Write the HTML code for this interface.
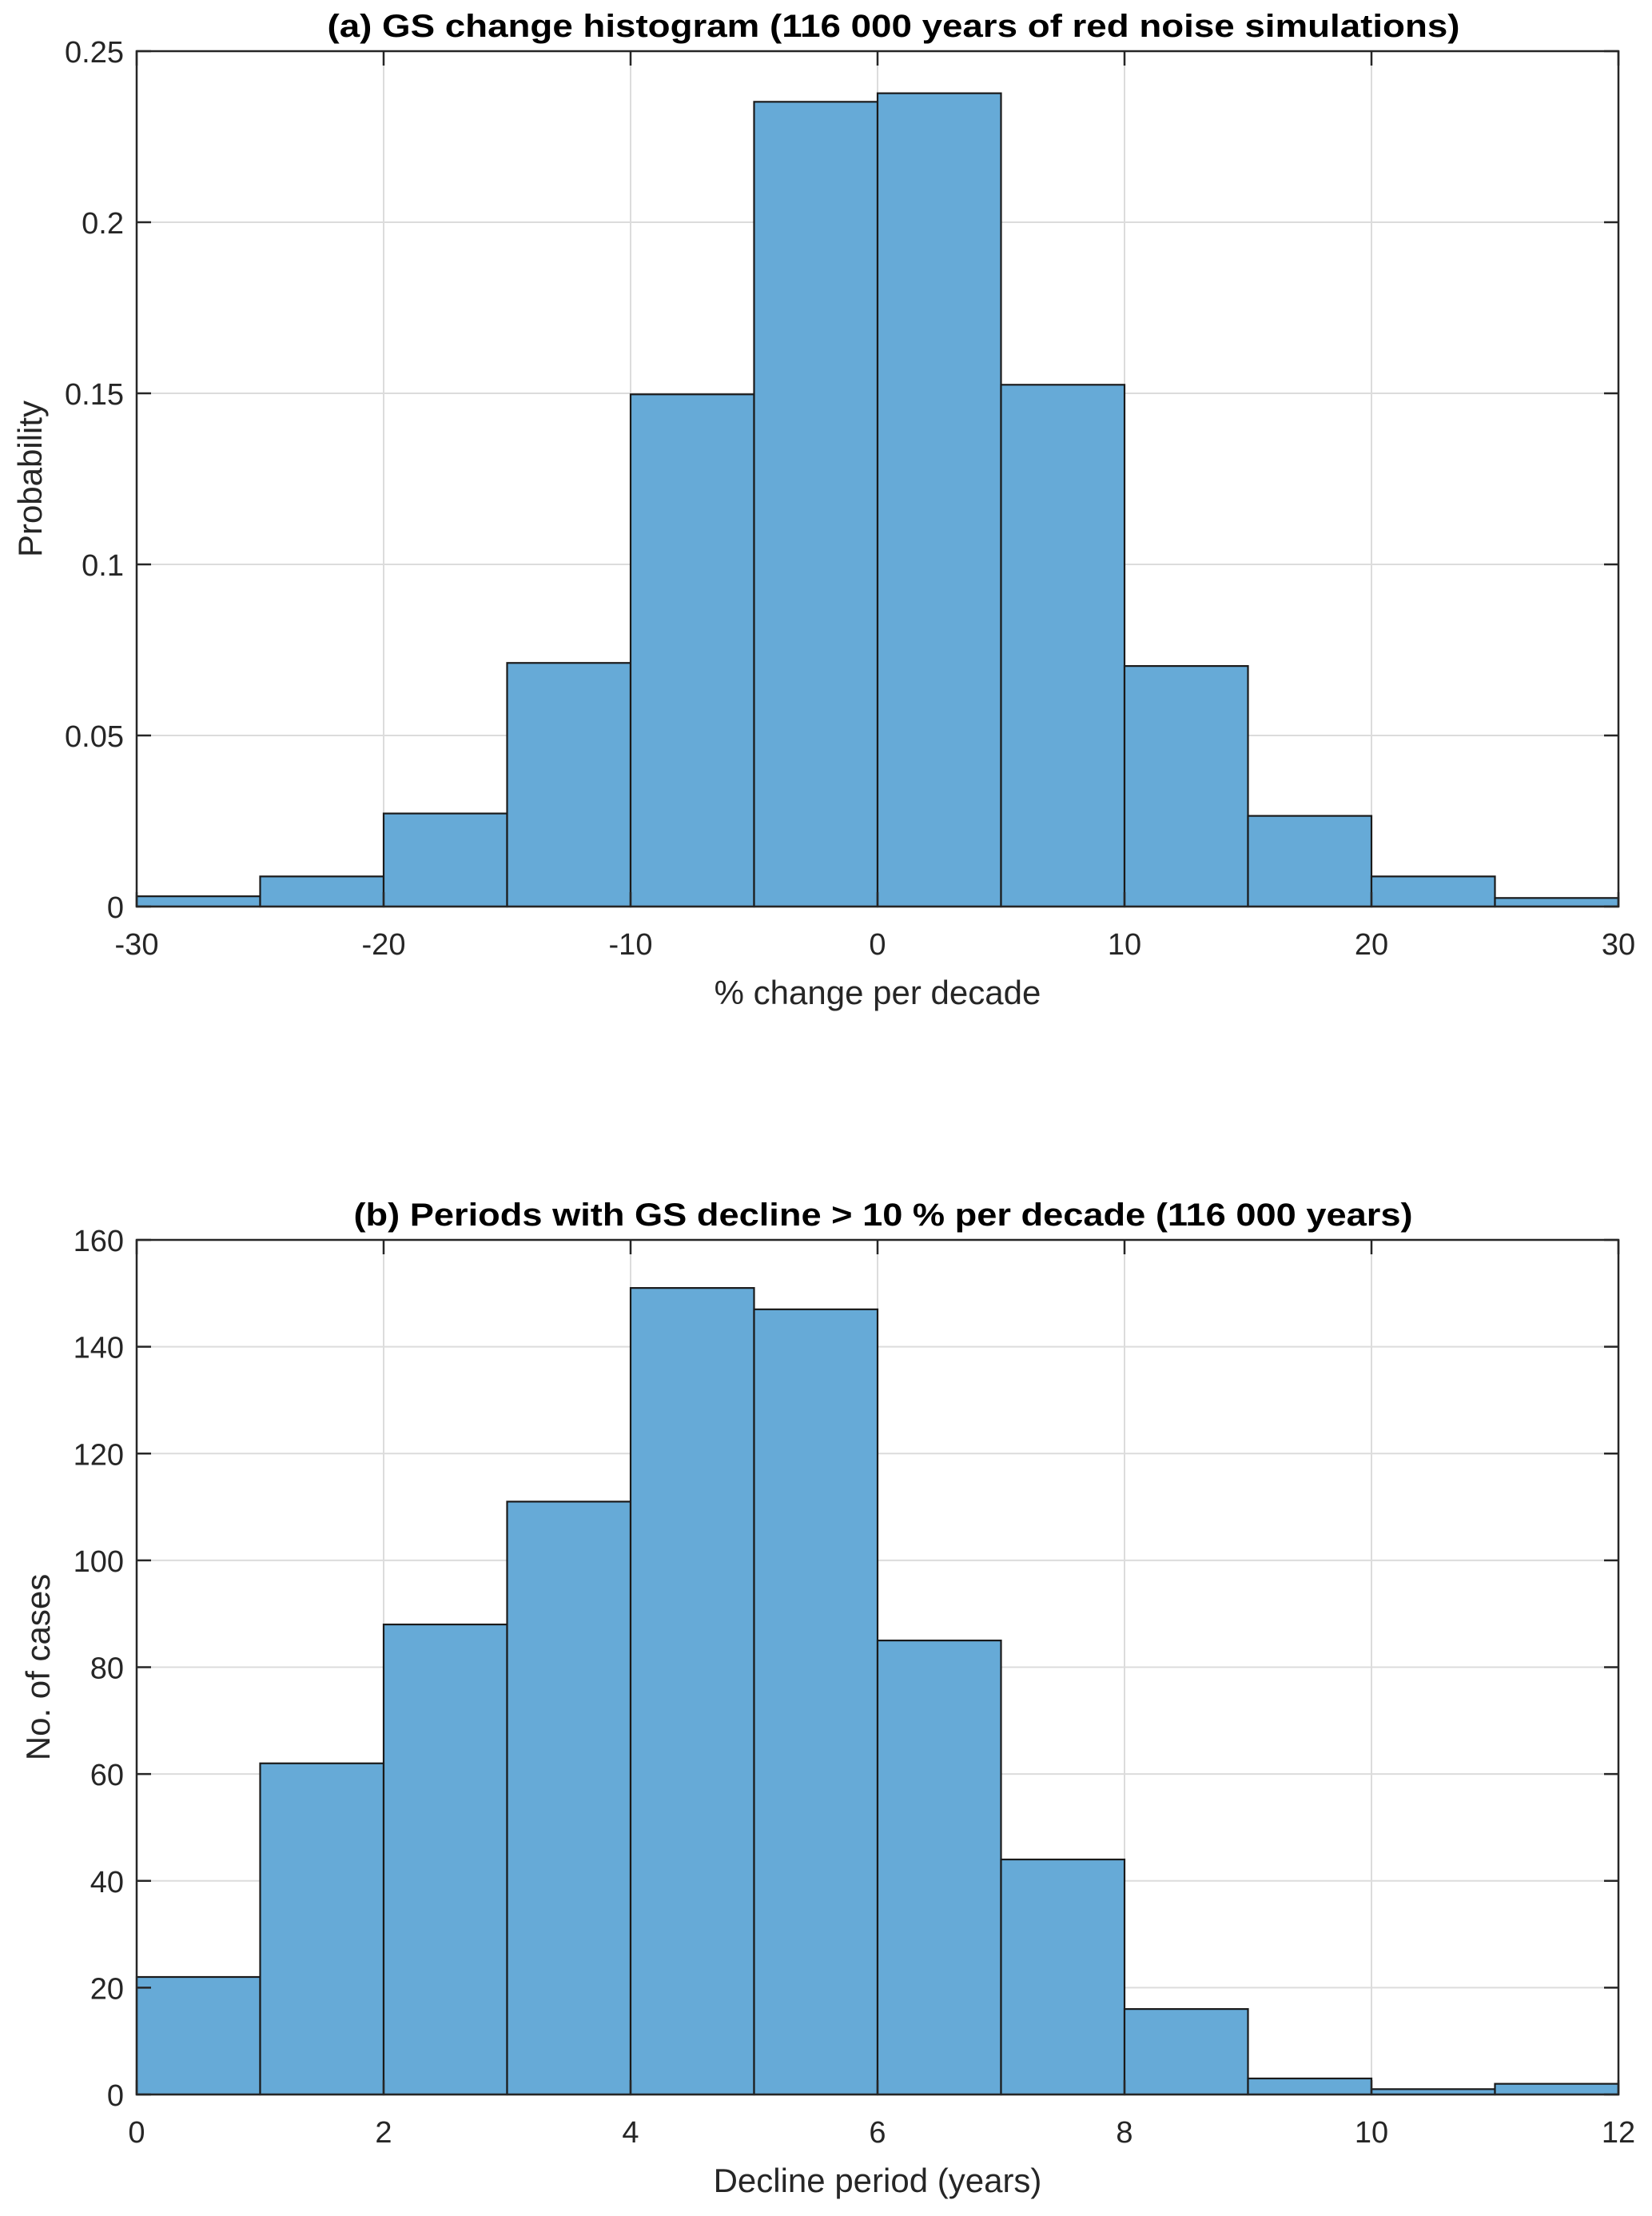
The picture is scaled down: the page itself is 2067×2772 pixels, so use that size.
<!DOCTYPE html>
<html><head><meta charset="utf-8"><style>
html,body{margin:0;padding:0;background:#fff;}
svg{display:block;font-family:"Liberation Sans",Arial,sans-serif;}
</style></head><body>
<svg id="fig" width="2067" height="2772" viewBox="0 0 2067 2772" xmlns="http://www.w3.org/2000/svg"></svg>
<script>
const aEdges=[-30,-25,-20,-15,-10,-5,0,5,10,15,20,25,30];
const aValues=[0.003,0.0088,0.0272,0.0712,0.1497,0.2352,0.2377,0.1525,0.0703,0.0265,0.0088,0.0025];
const aXTicks=[-30,-20,-10,0,10,20,30];
const aYTicks=[0,0.05,0.1,0.15,0.2,0.25];
const aYLabels=["0","0.05","0.1","0.15","0.2","0.25"];
const bEdges=[0,1,2,3,4,5,6,7,8,9,10,11,12];
const bValues=[22,62,88,111,151,147,85,44,16,3,1,2];
const bXTicks=[0,2,4,6,8,10,12];
const bYTicks=[0,20,40,60,80,100,120,140,160];

const NS="http://www.w3.org/2000/svg";
const svg=document.getElementById('fig');
function mk(tag,attrs,parent){const e=document.createElementNS(NS,tag);for(const k in attrs)e.setAttribute(k,attrs[k]);(parent||svg).appendChild(e);return e;}

function panel(id,cfg){
  const g=mk('g',{});
  
  
  const L=171,R=2025,T=cfg.top,B=cfg.bottom;
  const sx=v=>L+(v-cfg.xmin)/(cfg.xmax-cfg.xmin)*(R-L);
  const sy=v=>B-(v-cfg.ymin)/(cfg.ymax-cfg.ymin)*(B-T);
  cfg.xticks.forEach(t=>{const l=mk('line',{x1:sx(t),x2:sx(t),y1:T,y2:B,stroke:'#dcdcdc','stroke-width':2},g);
    });
  cfg.yticks.forEach(t=>{const l=mk('line',{x1:L,x2:R,y1:sy(t),y2:sy(t),stroke:'#dcdcdc','stroke-width':2},g);
    });
  cfg.values.forEach((v,i)=>{
    const x0=sx(cfg.edges[i]),x1=sx(cfg.edges[i+1]),y=sy(v);
    const r=mk('rect',{x:x0,y:y,width:x1-x0,height:B-y,fill:'#66aad7',stroke:'#1a1a1a','stroke-width':2.2},g);
    
    
  });
  const bx=mk('rect',{x:L,y:T,width:R-L,height:B-T,fill:'none',stroke:'#262626','stroke-width':2.5},g);
  
  cfg.xticks.forEach((t,i)=>{
    mk('line',{x1:sx(t),x2:sx(t),y1:B,y2:B-18,stroke:'#262626','stroke-width':2.5},g);
    mk('line',{x1:sx(t),x2:sx(t),y1:T,y2:T+18,stroke:'#262626','stroke-width':2.5},g);
    const tx=mk('text',{x:sx(t),y:B+60,'font-size':38,'text-anchor':'middle',fill:'#262626'},g);
    tx.textContent=String(t);
    
  });
  cfg.yticks.forEach((t,i)=>{
    mk('line',{x1:L,x2:L+18,y1:sy(t),y2:sy(t),stroke:'#262626','stroke-width':2.5},g);
    mk('line',{x1:R,x2:R-18,y1:sy(t),y2:sy(t),stroke:'#262626','stroke-width':2.5},g);
    const tx=mk('text',{x:L-16,y:sy(t)+14,'font-size':38,'text-anchor':'end',fill:'#262626'},g);
    tx.textContent=cfg.ylabels?cfg.ylabels[i]:String(t);
    
  });
  const xl=mk('text',{x:(L+R)/2,y:B+122,'font-size':42,'text-anchor':'middle',fill:'#262626'},g);
  xl.textContent=cfg.xlabel;
  const yl=mk('text',{x:0,y:0,'font-size':42,'text-anchor':'middle',fill:'#262626',transform:`translate(${cfg.ylx},${(T+B)/2}) rotate(-90)`},g);
  yl.textContent=cfg.ylabel;
  const ti=mk('text',{x:(L+R)/2+cfg.tdx,y:T-18,'font-size':40,'font-weight':'bold','text-anchor':'middle',fill:'#000',textLength:cfg.tlen,lengthAdjust:'spacingAndGlyphs'},g);
  ti.textContent=cfg.title;
}
panel('a',{top:64,bottom:1134,xmin:-30,xmax:30,ymin:0,ymax:0.25,edges:aEdges,values:aValues,xticks:aXTicks,yticks:aYTicks,ylabels:aYLabels,
  xlabel:'% change per decade',ylabel:'Probability',ylx:52,title:'(a) GS change histogram (116 000 years of red noise simulations)',tlen:1417,tdx:20});
panel('b',{top:1551,bottom:2620,xmin:0,xmax:12,ymin:0,ymax:160,edges:bEdges,values:bValues,xticks:bXTicks,yticks:bYTicks,
  xlabel:'Decline period (years)',ylabel:'No. of cases',ylx:62,title:'(b) Periods with GS decline > 10 % per decade (116 000 years)',tlen:1325,tdx:7});
</script>
</body></html>
